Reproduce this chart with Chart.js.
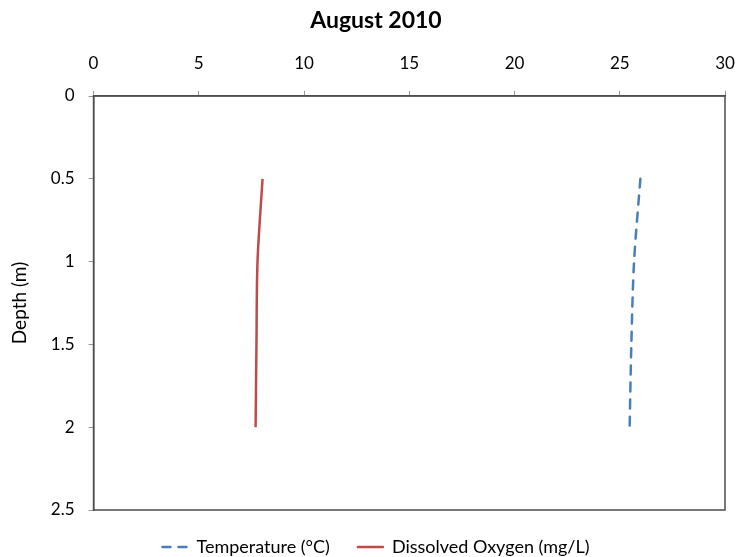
<!DOCTYPE html>
<html>
<head>
<meta charset="utf-8">
<script src="https://cdn.jsdelivr.net/npm/chart.js@4/dist/chart.umd.min.js"></script>
<style>
  body { margin: 0; background: #fff; }
</style>
</head>
<body>
<canvas id="grafico" width="736" height="557"></canvas>
<script>
// datos
const depths = [0.5, 1.0, 1.5, 2.0];
const temperature = [25.98, 25.68, 25.55, 25.47];
const dissolvedOxygen = [8.03, 7.79, 7.74, 7.70];
const xTicks = [0, 5, 10, 15, 20, 25, 30];
const yTicks = [0, 0.5, 1, 1.5, 2, 2.5];

const fuente = "Lato, 'Open Sans', sans-serif";
const colorEje = '#4d4d4d';

// marco completo del area del grafico
const marco = {
  id: 'marco',
  afterDraw(chart) {
    const { ctx, chartArea: a } = chart;
    ctx.save();
    ctx.strokeStyle = colorEje;
    ctx.lineWidth = 1.5;
    ctx.strokeRect(a.left, a.top, a.right - a.left, a.bottom - a.top);
    ctx.restore();
  }
};

// leyenda con el estilo de linea de cada serie
const etiquetas = (chart) => chart.data.datasets.map((ds, i) => ({
  text: ds.label,
  fillStyle: ds.borderColor,
  strokeStyle: ds.borderColor,
  lineWidth: ds.borderWidth,
  lineDash: ds.legendDash || [],
  lineCap: 'round',
  pointStyle: 'line',
  fontColor: '#000',
  datasetIndex: i,
}));

const ctx = document.getElementById('grafico').getContext('2d');
const miGrafico = new Chart(ctx, {
  type: 'scatter',
  data: {
    datasets: [
      {
        label: 'Temperature (°C)',
        data: depths.map((d, i) => ({ x: temperature[i], y: d })),
        showLine: true,
        borderColor: '#4a7ebb',
        backgroundColor: '#4a7ebb',
        borderWidth: 2.5,
        borderDash: [9, 8],
        borderCapStyle: 'round',
        legendDash: [8, 8],
        pointRadius: 0,
        tension: 0.3,
      },
      {
        label: 'Dissolved Oxygen (mg/L)',
        data: depths.map((d, i) => ({ x: dissolvedOxygen[i], y: d })),
        showLine: true,
        borderColor: '#be4b48',
        backgroundColor: '#be4b48',
        borderWidth: 2.5,
        pointRadius: 0,
        tension: 0.3,
      },
    ],
  },
  options: {
    responsive: false,
    animation: false,
    layout: { padding: { left: 8, right: -8, top: 0, bottom: -9 } },
    plugins: {
      title: {
        display: true,
        text: 'August 2010',
        color: '#000',
        font: { family: fuente, size: 23, weight: 'bold' },
        padding: { top: 7, bottom: 2 },
      },
      legend: {
        position: 'bottom',
        labels: {
          color: '#000',
          font: { family: fuente, size: 18 },
          usePointStyle: true,
          pointStyleWidth: 25,
          boxHeight: 2,
          padding: 28,
          generateLabels: etiquetas,
        },
      },
      tooltip: { enabled: false },
    },
    scales: {
      x: {
        type: 'linear',
        position: 'top',
        min: 0,
        max: 30,
        afterBuildTicks: (axis) => { axis.ticks = xTicks.map(v => ({ value: v })); },
        afterFit: (axis) => { axis.paddingRight = 11; },
        ticks: { color: '#000', font: { family: fuente, size: 17 }, padding: 17, callback: v => String(v) },
        grid: { display: true, drawOnChartArea: false, color: '#999', tickLength: 5 },
        border: { color: colorEje, width: 1.5 },
      },
      y: {
        type: 'linear',
        reverse: true,
        min: 0,
        max: 2.5,
        afterBuildTicks: (axis) => { axis.ticks = yTicks.map(v => ({ value: v })); },
        ticks: { color: '#000', font: { family: fuente, size: 17 }, padding: 14, callback: v => String(v) },
        grid: { display: true, drawOnChartArea: false, color: '#999', tickLength: 5 },
        border: { color: colorEje, width: 1.5 },
        title: {
          display: true,
          text: 'Depth (m)',
          color: '#000',
          font: { family: fuente, size: 19 },
          padding: { top: 0, bottom: 6 },
        },
      },
    },
  },
  plugins: [marco],
});
</script>
</body>
</html>
